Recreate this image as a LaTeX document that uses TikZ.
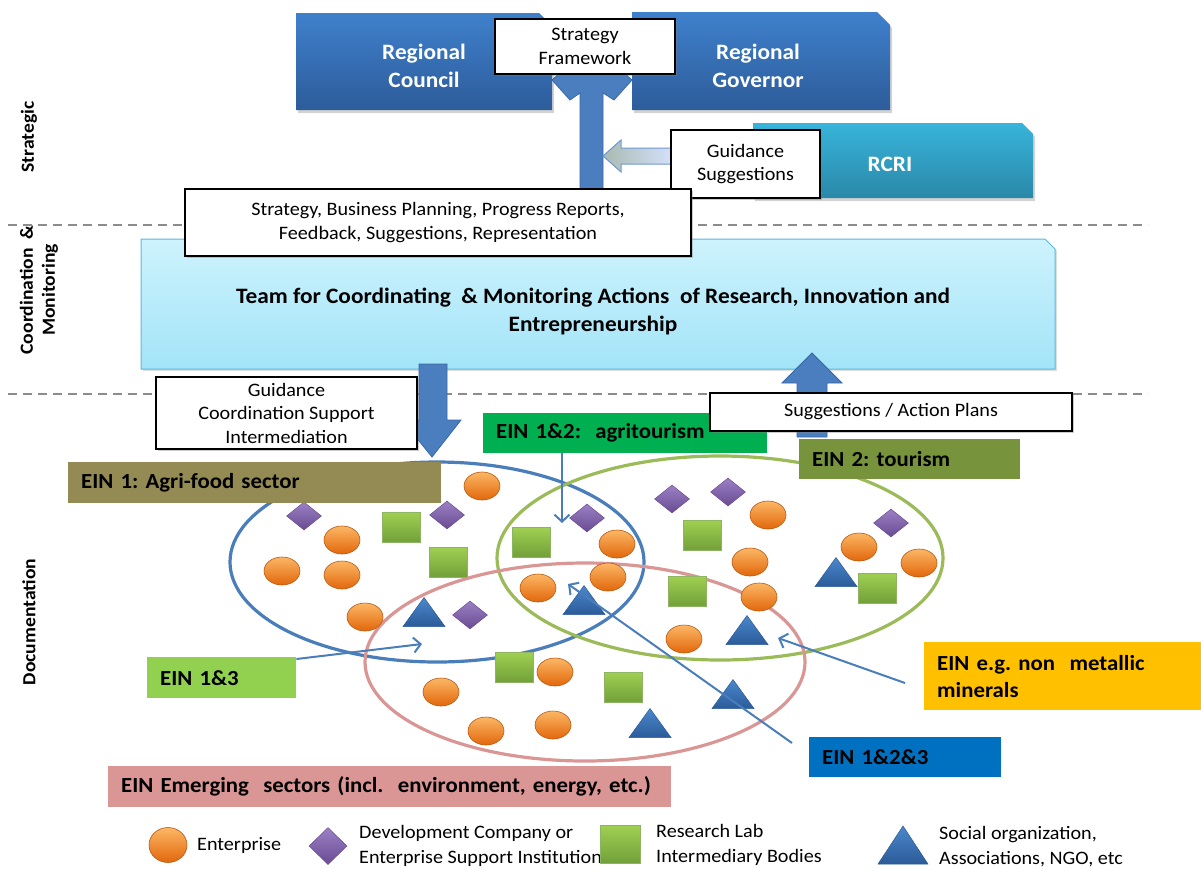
\documentclass[tikz,border=0pt]{standalone}
\usepackage{fontspec}
\setmainfont{Carlito}[FakeStretch=1.06]
\usetikzlibrary{shapes.geometric,arrows.meta,shadows,calc}
\frenchspacing

\definecolor{govtop}{HTML}{3F80CC}
\definecolor{govbot}{HTML}{2D5C9A}
\definecolor{rcritop}{HTML}{38B4DA}
\definecolor{rcribot}{HTML}{2A88A8}
\definecolor{teamtop}{HTML}{CDF3FD}
\definecolor{teambot}{HTML}{A3E4F8}
\definecolor{teamedge}{HTML}{5BB8DB}
\definecolor{arrowblue}{HTML}{4A7EBF}
\definecolor{arrowedge}{HTML}{3A68A6}
\definecolor{linkblue}{HTML}{4A7EBB}
\definecolor{dashgray}{HTML}{8C8C8C}
\definecolor{agrifood}{HTML}{948A54}
\definecolor{agritour}{HTML}{00B050}
\definecolor{tourism}{HTML}{77933C}
\definecolor{einthirteen}{HTML}{92D050}
\definecolor{minerals}{HTML}{FFC000}
\definecolor{einall}{HTML}{0070C0}
\definecolor{emerging}{HTML}{D99694}
\definecolor{ellblue}{HTML}{4A7EBB}
\definecolor{ellgreen}{HTML}{9BBB59}
\definecolor{ellpink}{HTML}{D99694}
\definecolor{orangetop}{HTML}{FBB765}
\definecolor{orangebot}{HTML}{E2670B}
\definecolor{orangeedge}{HTML}{B85A12}
\definecolor{purpletop}{HTML}{9C80C6}
\definecolor{purplebot}{HTML}{684B91}
\definecolor{greentop}{HTML}{A0D052}
\definecolor{greenbot}{HTML}{72A03A}
\definecolor{tritop}{HTML}{4B88CC}
\definecolor{tribot}{HTML}{2B5B99}
\definecolor{lighttip}{HTML}{A9BAB0}
\definecolor{lighttail}{HTML}{D3E0FA}
\definecolor{lightedge}{HTML}{7097D2}

\begin{document}
\begin{tikzpicture}[x=1pt,y=-1pt,
  govbox/.style={top color=govtop, bottom color=govbot,
    drop shadow={shadow xshift=2pt, shadow yshift=-3pt, opacity=0.35}},
  rcribox/.style={govbox, top color=rcritop, bottom color=rcribot},
  govtext/.style={text=white, align=center, inner sep=0pt,
    font=\fontsize{22}{28}\selectfont\bfseries},
  teambox/.style={top color=teamtop, bottom color=teambot, draw=teamedge, line width=1pt,
    drop shadow={shadow xshift=2pt, shadow yshift=-2pt, opacity=0.25}},
  wbox/.style={draw=black, fill=white, line width=1.1pt, align=center, inner sep=0pt,
    font=\fontsize{19}{23.5}\selectfont,
    drop shadow={shadow xshift=2pt, shadow yshift=-2pt, opacity=0.4}},
  lab/.style={anchor=north west, inner xsep=13pt, inner ysep=0pt, align=left,
    font=\fontsize{21.5}{27}\selectfont\bfseries},
  bigarrow/.style={fill=arrowblue, draw=arrowedge, line width=0.8pt},
  dashline/.style={draw=dashgray, line width=2.6pt, dash pattern=on 9pt off 6pt},
  ellipseline/.style={line width=3.2pt},
  link/.style={draw=linkblue, line width=2pt,
    -{Straight Barb[length=7pt, width=15pt, line width=2pt]}},
  ent/.style={ellipse, minimum width=36pt, minimum height=28pt, inner sep=0pt,
    top color=orangetop, bottom color=orangebot, draw=orangeedge, line width=0.6pt},
  dev/.style={diamond, aspect=1.25, minimum width=35pt, minimum height=28pt, inner sep=0pt,
    top color=purpletop, bottom color=purplebot, draw=purplebot, line width=0.5pt},
  lab2/.style={rectangle, minimum width=38pt, minimum height=30pt, inner sep=0pt,
    top color=greentop, bottom color=greenbot, draw=greenbot!80, line width=0.5pt},
  soc/.style={top color=tritop, bottom color=tribot, draw=tribot, line width=0.5pt},
  side/.style={rotate=90, align=center, font=\fontsize{18.5}{22}\selectfont\bfseries},
  legtext/.style={anchor=west, align=left, inner sep=0pt, font=\fontsize{19}{25}\selectfont}
]
\useasboundingbox (0,0) rectangle (1201,868);

% level separators
\draw[dashline] (8,225) -- (1148,225);
\draw[dashline] (8,394) -- (1148,394);

% strategic level: boxes with a cut top-right corner
\path[govbox] (296,13) -- (539,13) -- (552,26) -- (552,110) -- (296,110) -- cycle;
\node[govtext] (council) at (424,66) {Regional\\Council};
\path[govbox] (632,12) -- (877,12) -- (890,25) -- (890,110) -- (632,110) -- cycle;
\node[govtext] (governor) at (758,66) {Regional\\Governor};
\path[bigarrow] (580,195) -- (580,93) -- (570,100) -- (552,80) -- (592,44) -- (632,80)
  -- (614,100) -- (603,93) -- (603,195) -- cycle;
\node[wbox, minimum width=180pt, minimum height=55pt] (frame) at (585,46.5) {Strategy\\Framework};
\path[rcribox] (753,123) -- (1022,123) -- (1033,134) -- (1033,198) -- (753,198) -- cycle;
\node[govtext] (rcri) at (890,164) {RCRI};
\coordinate (shaft) at (603,156);
\path[left color=lighttip, right color=lighttail, draw=lightedge, line width=1pt]
  (671,148) -- (621,148) -- (621,140) -- (shaft) -- (621,172) -- (621,164) -- (671,164) -- cycle;
\node[wbox, minimum width=149pt, minimum height=68pt] (guide) at (745.5,164) {Guidance\\Suggestions};

% coordination level
\path[teambox] (141,239) -- (1045,239) -- (1055,249) -- (1055,369) -- (141,369) -- cycle;
\node[font=\fontsize{22}{28}\selectfont\bfseries, align=center] (team) at (593,311)
  {Team for Coordinating \ \& Monitoring Actions \ of Research, Innovation and\\Entrepreneurship};
\node[wbox, minimum width=506pt, minimum height=67pt] (reports) at (438,222.5)
  {Strategy, Business Planning, Progress Reports,\\Feedback, Suggestions, Representation};
\path[bigarrow] (419,364) -- (447,364) -- (447,420) -- (461,420) -- (432,457) -- (402,420)
  -- (419,420) -- cycle;
\node[wbox, minimum width=261pt, minimum height=72pt] (support) at (286.5,413)
  {Guidance\\Coordination Support\\Intermediation};

% networks
\draw[ellipseline, ellblue] (437,562) ellipse [x radius=207, y radius=100];
\draw[ellipseline, ellgreen] (720,558) ellipse [x radius=223, y radius=102];
\draw[ellipseline, ellpink] (585,662) ellipse [x radius=220, y radius=99];

\foreach \x/\y [count=\i] in {482/486, 342/540, 282/571, 342/575, 365/617, 617/544,
  538/588, 608/577, 555/672, 441/692, 486/731, 553/725, 684/639, 768/515, 750/562,
  759/597, 859/547, 919/563}
  \node[ent] (ent\i) at (\x,\y) {};
\foreach \x/\y [count=\i] in {304/516, 447/515, 470/615, 587/518, 672/499, 728/492, 891/523}
  \node[dev] (dev\i) at (\x,\y) {};
\foreach \x/\y [count=\i] in {401/527, 448/562, 531/542, 514/667, 623/687, 702/535,
  687/591, 877/588}
  \node[lab2] (rl\i) at (\x,\y) {};
\foreach \x/\y in {424/612, 584/600, 650/723, 747/630, 733/694, 836/572}
  \path[soc, shift={(\x,\y)}] (-21,14.5) -- (21,14.5) -- (0,-14.5) -- cycle;

% network labels
\node[lab, fill=agrifood, text width=347pt, minimum height=41pt] (ein1) at (68,462) {EIN 1: Agri-food sector};
\node[lab, fill=agritour, text width=258pt, minimum height=40pt] (ein12) at (483,413) {EIN 1\&2: \ agritourism};
\node[lab, fill=tourism, text width=195pt, minimum height=40pt] (ein2) at (799,439) {EIN 2: tourism};
\node[lab, fill=einthirteen, text width=123pt, minimum height=41pt] (ein13) at (147,657) {EIN 1\&3};
\node[lab, fill=minerals, text width=251pt, minimum height=68pt] (einmin) at (924,642) {EIN e.g. non \ metallic\\minerals};
\node[lab, fill=einall, text width=166pt, minimum height=40pt] (ein123) at (809,737) {EIN 1\&2\&3};
\node[lab, fill=emerging, text width=537pt, minimum height=41pt] (einem) at (108,766)
  {EIN Emerging \ sectors (incl. \ environment, energy, etc.)};

% feedback from the networks
\path[bigarrow] (797,437) -- (797,383) -- (782,383) -- (812,353) -- (842,383) -- (827,383)
  -- (827,437) -- cycle;
\node[wbox, minimum width=362pt, minimum height=38pt] (plans) at (891,412) {Suggestions / Action Plans};

% pointers into the overlaps
\coordinate (t12) at (562,523);
\coordinate (t13) at (422,644);
\coordinate (tmin) at (778,638);
\coordinate (smin) at (905,683);
\coordinate (t123) at (568,584);
\coordinate (s123) at (792,743);
\draw[link] (ein12.south -| t12) -- (t12);
\draw[link] ($(ein13.north east)+(0,2)$) -- (t13);
\draw[link] (smin) -- (tmin);
\draw[link] (s123) -- (t123);

% legend
\node[ent, minimum width=38pt, minimum height=35pt] (legent) at (168,845) {};
\node[legtext] (legenttext) at (197,845) {Enterprise};
\node[dev, aspect=1, minimum width=38pt, minimum height=37pt] (legdev) at (328,846) {};
\node[legtext] (legdevtext) at (359,846) {Development Company or\\Enterprise Support Institution};
\node[lab2, minimum width=40pt, minimum height=38pt] (leglab) at (620,844) {};
\node[legtext] (leglabtext) at (656,845) {Research Lab\\Intermediary Bodies};
\path[soc, shift={(903,845)}] (-25,19) -- (25,19) -- (0,-19) -- cycle;
\node[legtext] (legsoctext) at (939,847) {Social organization,\\Associations, NGO, etc};

% level names
\node[side] (lvl1) at (29,137) {Strategic};
\node[side] (lvl2) at (39,290) {Coordination \ \&\\Monitoring};
\node[side] (lvl3) at (29,622) {Documentation};
\end{tikzpicture}
\end{document}
